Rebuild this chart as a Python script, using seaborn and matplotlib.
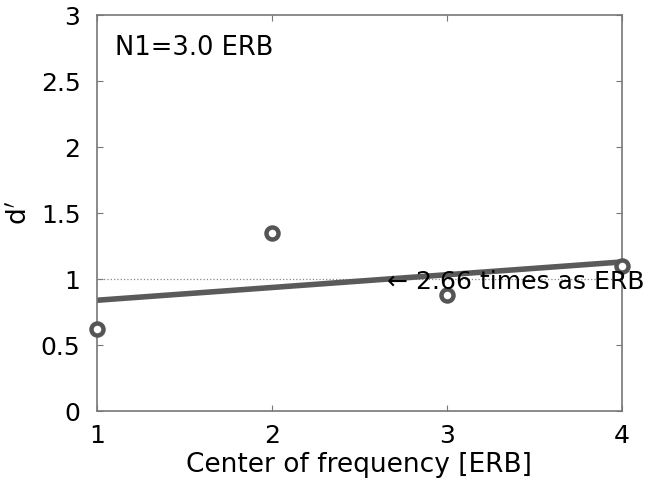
import numpy as np
import pandas as pd
import seaborn as sns
import matplotlib
matplotlib.use('Agg')
import matplotlib.pyplot as plt

# Data
center_erb = [1, 2, 3, 4]
d_prime = [0.62, 1.35, 0.88, 1.10]
fit_x = [1, 4]
fit_y = [0.84, 1.13]
threshold = 1.0
crossing = 2.66

sns.set_style('white')
plt.rcParams['font.family'] = ['DejaVu Sans']
plt.rcParams['text.color'] = 'black'
plt.rcParams['axes.labelcolor'] = 'black'
plt.rcParams['xtick.labelcolor'] = 'black'
plt.rcParams['ytick.labelcolor'] = 'black'

fig, ax = plt.subplots(figsize=(6.65, 4.86), dpi=100)
fig.subplots_adjust(left=0.146, right=0.935, top=0.969, bottom=0.154)

# dotted reference line at d'=1
ax.axhline(threshold, color='#888888', lw=0.9, ls=':', zorder=1)

# regression line
sns.lineplot(x=fit_x, y=fit_y, ax=ax, color='#5a5a5a', lw=4, zorder=2)

# measured points
df = pd.DataFrame({'x': center_erb, 'y': d_prime})
sns.scatterplot(data=df, x='x', y='y', ax=ax, s=75, facecolor='white',
                edgecolor='#555555', linewidth=3.2, zorder=3, clip_on=False)

ax.text(1.105, 2.75, 'N1=3.0 ERB', fontsize=18.5, va='center', ha='left')
ax.text(crossing, threshold - 0.02, '\u2190 %.2f times as ERB' % crossing,
        fontsize=18, va='center', ha='left')

ax.set_xlim(1, 4)
ax.set_ylim(0, 3)
ax.set_xticks([1, 2, 3, 4])
ax.set_yticks([0, 0.5, 1, 1.5, 2, 2.5, 3])
ax.set_yticklabels(['0', '0.5', '1', '1.5', '2', '2.5', '3'])
ax.tick_params(direction='in', length=4, color='#777777', labelsize=18,
               top=True, right=True, bottom=True, left=True)
ax.tick_params(axis='x', pad=9)
ax.tick_params(axis='y', pad=12)
for s in ax.spines.values():
    s.set_color('#777777')
    s.set_linewidth(1.2)
ax.set_xlabel('Center of frequency [ERB]', fontsize=19, labelpad=3)
ax.set_ylabel("d$'$", fontsize=19, labelpad=6)

fig.savefig('out.png', dpi=100)
